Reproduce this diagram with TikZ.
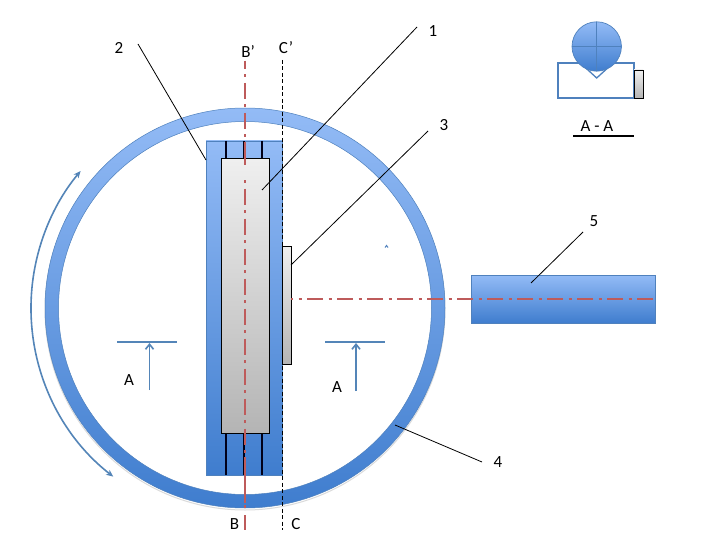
\documentclass[tikz,border=0pt]{standalone}
\usepackage{fontspec}
\setmainfont{Carlito}
\usetikzlibrary{arrows.meta}
\definecolor{bluetop}{HTML}{93BBF6}
\definecolor{bluebot}{HTML}{3F7DCE}
\definecolor{edgeblue}{HTML}{4F81BD}
\definecolor{arrowblue}{HTML}{5485B8}
\definecolor{redaxis}{HTML}{BE5B5B}
\definecolor{graytop}{HTML}{EFEFEF}
\definecolor{graybot}{HTML}{B4B4B4}
\tikzset{
  x=1pt,y=-1pt,
  lbl/.style={font=\fontsize{17}{19}\selectfont,inner sep=0pt,text=black},
  leader/.style={draw=black,line width=0.8pt},
  axisred/.style={draw=redaxis,line width=2.4pt,dash pattern=on 16pt off 5.5pt on 3pt off 5.5pt},
  axissolid/.style={draw=redaxis,line width=2.4pt},
  blueshade/.style={top color=bluetop,bottom color=bluebot,draw=none},
  grayshade/.style={top color=graytop,bottom color=graybot,draw=none},
  bluearrow/.style={draw=arrowblue,line width=1.6pt,-{Straight Barb[length=5pt,width=8pt]}},
  sectline/.style={draw=arrowblue,line width=1.6pt},
  rail/.style={draw=black!90!blue,line width=1.8pt},
  shadowline/.style={draw=black!14,line width=1pt}
}
\begin{document}
\begin{tikzpicture}
\useasboundingbox (0,0) rectangle (720,540);
\fill[white] (0,0) rectangle (720,540);
% ring
\coordinate (ringc) at (245,308);
\draw[shadowline] (245,310) circle[radius=200pt];
\shade[blueshade,even odd rule] (ringc) circle[radius=200pt] (ringc) circle[radius=186.5pt];
\draw[edgeblue,line width=0.5pt] (ringc) circle[radius=200pt] (ringc) circle[radius=186.5pt];
% rotation arrow
\draw[draw=arrowblue,line width=1.6pt,{Stealth[length=7pt,width=6pt,inset=2pt]}-{Stealth[length=7pt,width=6pt,inset=2pt]}]
  (ringc) ++(232:214pt) arc[start angle=232,end angle=140.2,radius=214pt];
% carrier
\shade[blueshade] (206,141) rectangle (282,475);
\draw[edgeblue,line width=0.5pt] (206,141) rectangle (282,475);
\foreach \xx in {226,244,262}{
  \draw[rail] (\xx,141) -- (\xx,159);
  \draw[rail] (\xx,433) -- (\xx,475);
}
% plate
\shade[grayshade] (221,159) rectangle (269,433);
\draw[black,line width=1pt] (221,159) rectangle (269,433);
% side block
\shade[grayshade] (282,246) rectangle (291,364);
\draw[black,line width=1pt] (282,246) rectangle (291,364);
% shaft
\shade[blueshade] (471,275) rectangle (655,323);
\draw[edgeblue,line width=0.5pt] (471,275) rectangle (655,323);
% axes
\coordinate (bt) at (245,60.7);
\coordinate (b1) at (245,142);
\coordinate (b2) at (245,165);
\coordinate (b3) at (245,179);
\coordinate (b4) at (245,457);
\coordinate (b5) at (245,503);
\coordinate (b6) at (245,505.2);
\coordinate (b7) at (245,508.2);
\coordinate (b8) at (245,515);
\coordinate (bb) at (245,530);
\coordinate (ct) at (282,60);
\coordinate (cb) at (282,530);
\coordinate (al) at (291,299);
\coordinate (ar) at (655,299);
\draw[axisred,dash phase=7.7pt] (bt) -- (b1);
\draw[axissolid] (b1) -- (b2);
\draw[axisred,dash phase=20.3pt] (b3) -- (b4);
\draw[axissolid] (b4) -- (b5);
\draw[axissolid] (b6) -- (b7);
\draw[axissolid] (b8) -- (bb);
\draw[axisred,dash phase=14pt] (al) -- (ar);
\draw[black,line width=1pt,dash pattern=on 4pt off 2.5pt] (ct) -- (cb);
% leaders
\node[lbl] (n1) at (433,31) {1};
\node[lbl] (n2) at (119,48) {2};
\node[lbl] (n3) at (444,125) {3};
\node[lbl] (n4) at (498,462) {4};
\node[lbl] (n5) at (594,221) {5};
\coordinate (p1a) at (417,27); \coordinate (p1b) at (262,190);
\coordinate (p2a) at (138,44); \coordinate (p2b) at (206,160);
\coordinate (p3a) at (428,131); \coordinate (p3b) at (291,265);
\coordinate (p4a) at (482,462); \coordinate (p4b) at (395,425);
\coordinate (p5a) at (583,232); \coordinate (p5b) at (531,283);
\draw[leader] (p1a) -- (p1b);
\draw[leader] (p2a) -- (p2b);
\draw[leader] (p3a) -- (p3b);
\draw[leader] (p4a) -- (p4b);
\draw[leader] (p5a) -- (p5b);
% axis labels
\node[lbl] (lbp) at (248,52) {B’};
\node[lbl] (lcp) at (286,48) {C’};
\node[lbl] (lb) at (234.5,524) {B};
\node[lbl] (lc) at (296,524) {C};
% section marks
\coordinate (s1a) at (117,342); \coordinate (s1b) at (177,342);
\coordinate (s2a) at (325,342); \coordinate (s2b) at (385,342);
\coordinate (s1t) at (149.5,343); \coordinate (s1f) at (149.5,390);
\coordinate (s2t) at (356,343); \coordinate (s2f) at (356,391);
\draw[sectline] (s1a) -- (s1b);
\draw[sectline] (s2a) -- (s2b);
\draw[bluearrow] (s1f) -- (s1t);
\draw[bluearrow] (s2f) -- (s2t);
\node[lbl] (la1) at (129,380) {A};
\node[lbl] (la2) at (337,387) {A};
% tiny mark
\draw[edgeblue,line width=1pt] (385,247.5) -- (386.5,245.5) -- (388,247.5);
% section A-A
\fill[white] (558,63) rectangle (634,98);
\draw[edgeblue,line width=1.5pt] (558,63) rectangle (634,98);
\shade[grayshade] (634,70) rectangle (643,98);
\draw[black,line width=0.9pt] (634,70) rectangle (643,98);
\fill[white] (579,63.5) -- (596.7,78) -- (614.4,63.5) -- cycle;
\draw[edgeblue,line width=1.3pt] (577,60) -- (596.7,78) -- (616.4,60);
\shade[blueshade] (596.7,46.5) circle[radius=24.7pt];
\draw[edgeblue,line width=0.7pt] (596.7,46.5) circle[radius=24.7pt];
\draw[edgeblue,line width=0.7pt] (572,46.5) -- (621.4,46.5);
\draw[edgeblue,line width=0.7pt] (596.7,21.8) -- (596.7,71.2);
\node[lbl] (laa) at (597,126) {A - A};
\coordinate (ula) at (573,136); \coordinate (ulb) at (634,136);
\draw[black,line width=1.5pt] (ula) -- (ulb);
\end{tikzpicture}
\end{document}
